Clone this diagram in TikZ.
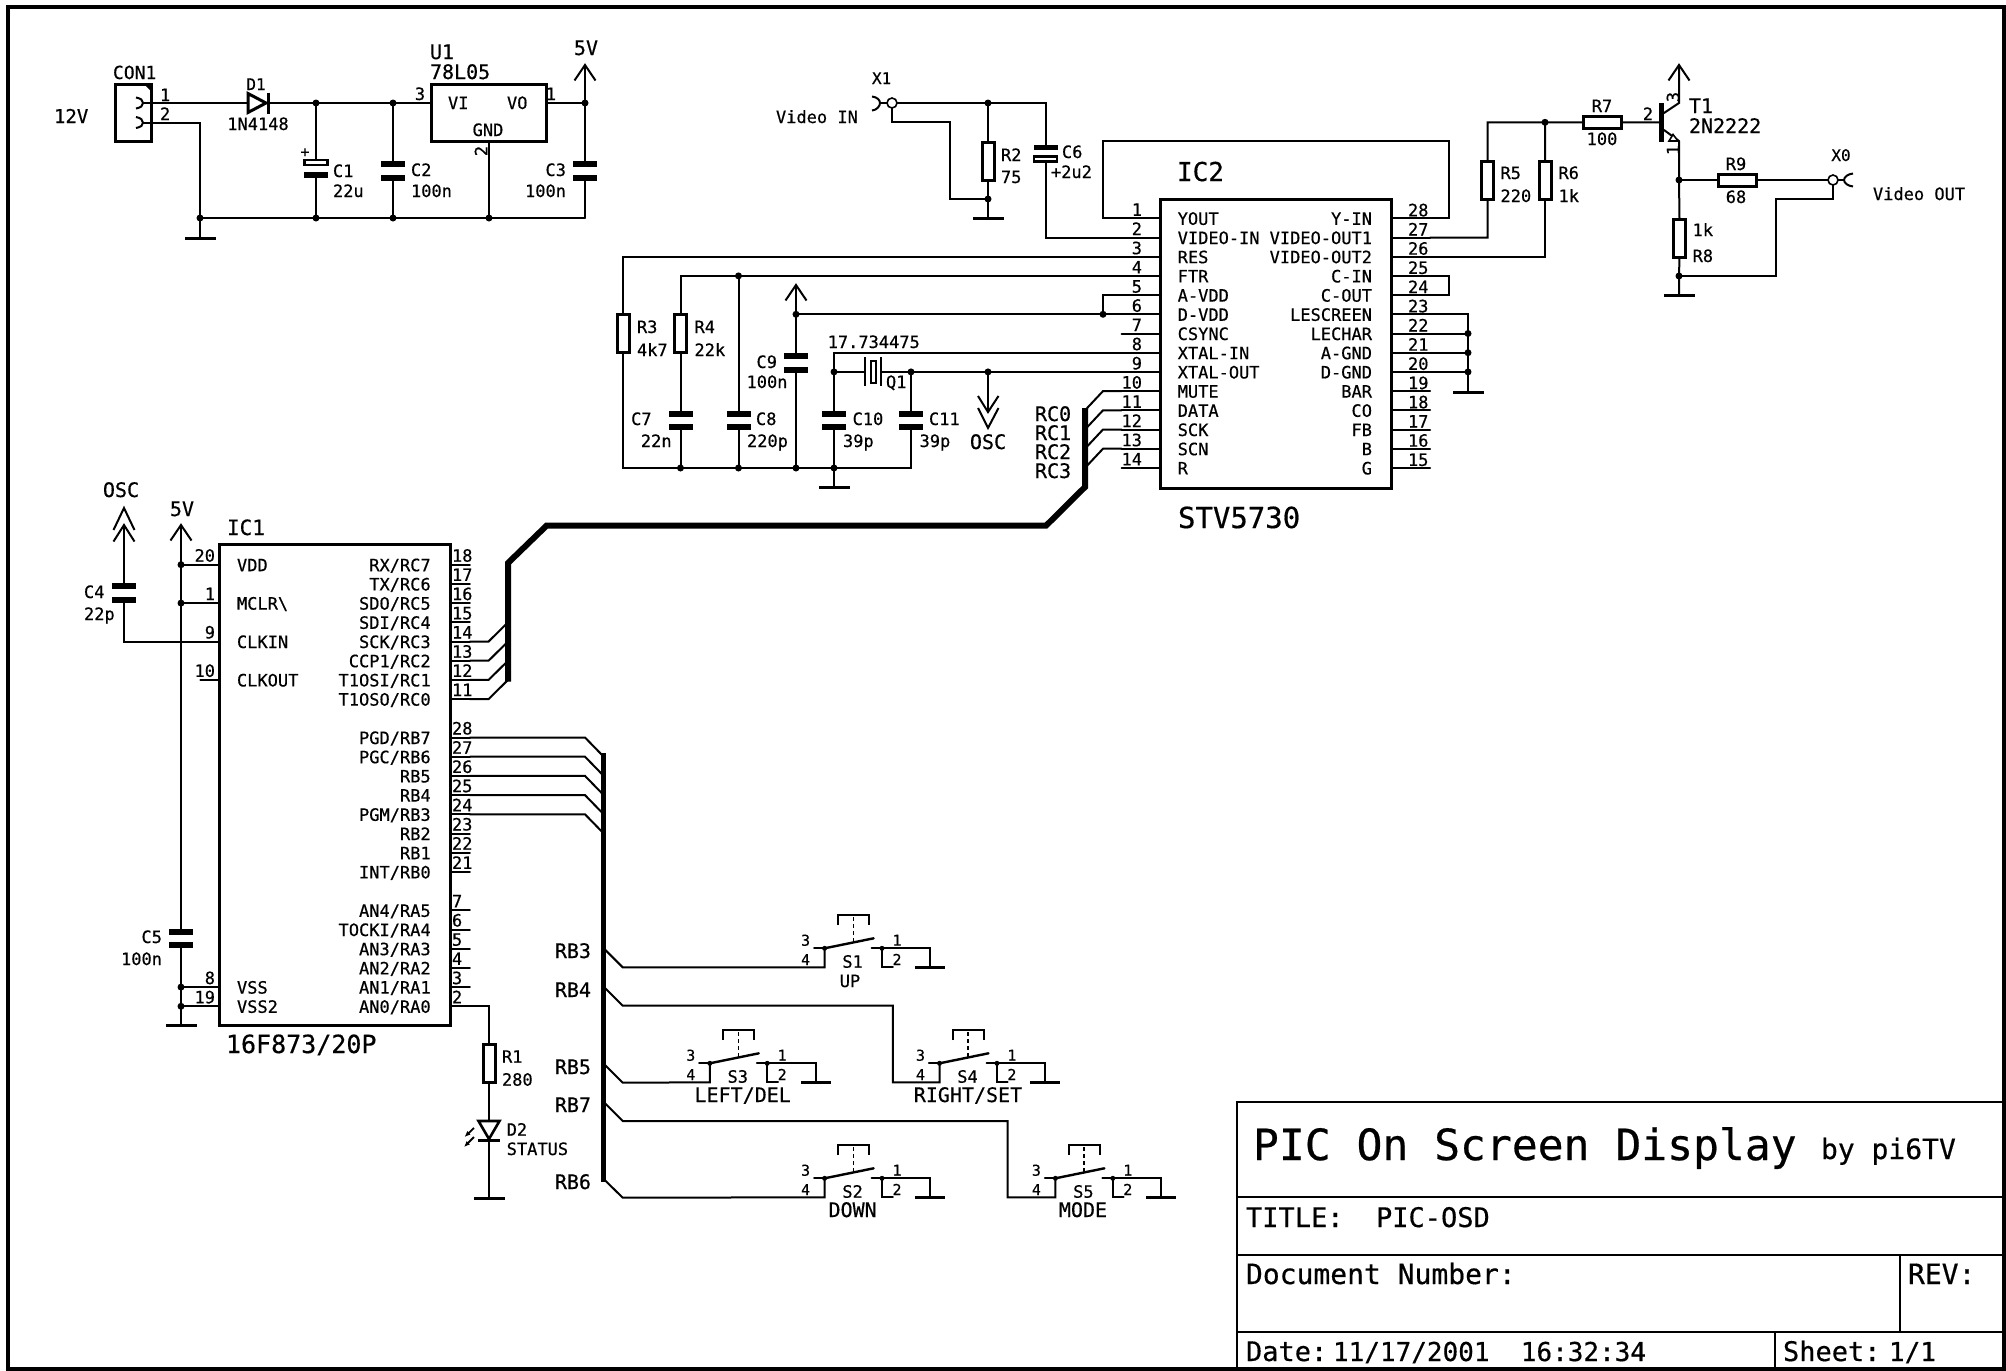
\documentclass[tikz,border=0pt]{standalone}
\usepackage{fontspec}
\usetikzlibrary{arrows.meta}
\setmainfont[FakeBold=0.5]{DejaVu Sans Mono}
\newcounter{tn}
\tikzset{
  wire/.style={line width=2pt,line cap=round,line join=miter},
  comp/.style={line width=3pt,line join=miter},
  busline/.style={line width=5.5pt,line join=miter,line cap=butt},
  jn/.style={circle,fill=black,inner sep=0pt,minimum size=7pt,outer sep=0pt},
  jns/.style={circle,fill=black,inner sep=0pt,minimum size=5pt,outer sep=0pt},
  rv/.style={draw,line width=3pt,fill=white,minimum width=12pt,minimum height=38pt,inner sep=0pt,outer sep=0pt},
  rh/.style={draw,line width=3pt,fill=white,minimum width=38pt,minimum height=12pt,inner sep=0pt,outer sep=0pt},
  plate/.style={fill=black,minimum width=24pt,minimum height=6pt,inner sep=0pt,outer sep=0pt},
  hplate/.style={draw,line width=2.2pt,fill=white,minimum width=23pt,minimum height=5pt,inner sep=0pt,outer sep=0pt},
  gbar/.style={fill=black,minimum width=31pt,minimum height=3pt,inner sep=0pt,outer sep=0pt},
  icbox/.style={draw,line width=3pt,inner sep=0pt,outer sep=0pt},
  lbl/.style={inner sep=0pt,outer sep=0pt},
  sheetline/.style={line width=2.6pt},
}
\newcommand\txt[4][17]{\stepcounter{tn}\node[lbl,anchor=#2,font=\fontsize{#1}{#1}\selectfont] (t\arabic{tn}) at (#3) {#4};}
\newcommand\rtxt[3][17]{\stepcounter{tn}\node[lbl,rotate=90,font=\fontsize{#1}{#1}\selectfont] (t\arabic{tn}) at (#2) {#3};}
\newcommand\junc[3]{\node[jn] (#1) at (#2,#3) {};}
\newcommand\gnd[3]{\node[gbar] (#1) at (#2,#3) {};}
\newcommand\capv[3]{\node[plate] (#1t) at (#2,#3-6.6) {};\node[plate] (#1b) at (#2,#3+6.6) {};}
\newcommand\supply[3]{\coordinate (#1) at (#2,#3);\draw[wire,line cap=butt] (#2-10.5,#3+15.5) -- (#1) -- (#2+10.5,#3+15.5);}
% IC1 pins
\newcommand\pinL[3]{\coordinate (IC1-#1) at (219.6,#3);\coordinate (IC1-#1e) at (200.4,#3);\draw[wire] (IC1-#1) -- (IC1-#1e);\txt{base east}{215,#3-3}{#1}\txt{base west}{237,#3+6.5}{#2}}
\newcommand\pinR[3]{\coordinate (IC1-#1) at (450.7,#3);\coordinate (IC1-#1e) at (469.8,#3);\draw[wire] (IC1-#1) -- (IC1-#1e);\txt{base west}{452,#3-3}{#1}\txt{base east}{430.7,#3+6.5}{#2}}
% IC2 pins
\newcommand\pinC[3]{\coordinate (IC2-#1) at (1161,#3);\coordinate (IC2-#1e) at (1121.6,#3);\draw[wire] (IC2-#1) -- (IC2-#1e);\txt{base east}{1142,#3-2.5}{#1}\txt{base west}{1177.7,#3+6.5}{#2}}
\newcommand\pinD[3]{\coordinate (IC2-#1) at (1391.5,#3);\coordinate (IC2-#1e) at (1430,#3);\draw[wire] (IC2-#1) -- (IC2-#1e);\txt{base west}{1408,#3-2}{#1}\txt{base east}{1372,#3+6.5}{#2}}
% push button
\newcommand\pushsw[4]{\begin{scope}[shift={(#2,#3)}]
  \coordinate (#1L) at (0,0);\coordinate (#1g) at (0,19);\coordinate (#1s) at (-10.6,0);
  \coordinate (#1m) at (49,-10);\coordinate (#1r) at (47,0);\coordinate (#1c) at (105.7,0);
  \coordinate (#1d) at (68.2,19);\coordinate (#1f) at (57.4,19);
  \coordinate (#1u) at (28.7,-6.6);\coordinate (#1v) at (28.7,-33.3);
  \node[jns] (#1a) at (0,0) {};\node[jns] (#1b) at (57.4,0) {};
  \node[gbar,minimum width=30pt] (#1G) at (105.7,19) {};
  \draw[wire] (#1s) -- (#1a.center) (#1r) -- (#1b.center) -- (#1c) -- (#1G.center);
  \draw[wire,line width=2.4pt] (#1a.center) -- (#1m);
  \draw[wire] (#1b.center) -- (#1f) -- (#1d);
  \draw[line width=1.6pt,dash pattern=on 4pt off 3pt] (#1u) -- (#1v);
  \draw[wire,line width=2.4pt,line cap=butt] (13.4,-23.3) -- (13.4,-33.3) -- (44.4,-33.3) -- (44.4,-23.3);
  \txt[15]{base}{-19,-2.6}{3}\txt[15]{base}{-19,16.7}{4}\txt[15]{base}{72.4,-2.6}{1}\txt[15]{base}{72.4,16.7}{2}
  \txt{base}{28,19.4}{#4}
\end{scope}}
\begin{document}
\begin{tikzpicture}[x=1pt,y=-1pt]
\useasboundingbox (0,0) rectangle (2006,1371);
% sheet frame
\node[draw,line width=4.5pt,minimum width=1996pt,minimum height=1362pt,inner sep=0pt,outer sep=0pt] (frame) at (1006,688) {};
% title block
\coordinate (tbA) at (1237,1102);\coordinate (tbB) at (2004,1102);
\coordinate (tbC) at (1237,1197);\coordinate (tbD) at (2004,1197);
\coordinate (tbE) at (1237,1255);\coordinate (tbF) at (2004,1255);
\coordinate (tbG) at (1237,1332);\coordinate (tbH) at (2004,1332);
\coordinate (tbI) at (1237,1369);\coordinate (tbJ) at (1900,1255);\coordinate (tbK) at (1900,1332);
\coordinate (tbL) at (1775,1332);\coordinate (tbM) at (1775,1369);
\draw[sheetline] (tbI) -- (tbA) -- (tbB) (tbC) -- (tbD) (tbE) -- (tbF) (tbG) -- (tbH) (tbJ) -- (tbK) (tbL) -- (tbM);
\txt[43]{base west}{1253,1160}{PIC On Screen Display}
\txt[28]{base west}{1821,1159}{by pi6TV}
\txt[27]{base west}{1246,1227}{TITLE:~~PIC-OSD}
\txt[28]{base west}{1246,1284}{Document Number:}
\txt[28]{base west}{1908,1284}{REV:}
\txt[27]{base west}{1246,1361}{Date:}
\txt[26]{base west}{1333,1361}{11/17/2001~~16:32:34}
\txt[27]{base west}{1783,1361}{Sheet:}
\txt[26]{base west}{1889,1361}{1/1}

% ---------- power supply ----------
\node[icbox,minimum width=36pt,minimum height=57pt] (CON1) at (133.5,113) {};
\fill (144,84) -- (152,84) -- (152,92) -- cycle;
\coordinate (CONa) at (143,103);\coordinate (CONb) at (143,122.7);
\draw[wire,line cap=butt] (136,97.5) .. controls (141,98.5) and (143,100) .. (CONa) .. controls (143,106) and (141,107.5) .. (136,108.5);
\draw[wire,line cap=butt] (136,117) .. controls (141,118) and (143,120) .. (CONb) .. controls (143,125.5) and (141,127) .. (136,128);
\txt[18]{base west}{113,79}{CON1}
\txt{base west}{160,101}{1}\txt{base west}{160,120}{2}
\txt[19]{base west}{54,123}{12V}
\coordinate (D1a) at (248,103);\coordinate (D1k) at (268,103);
\draw[comp] (248,93.5) -- (266,103) -- (248,112.5) -- cycle;
\draw[comp] (268,92.5) -- (268,113.5);
\txt[16]{base}{256,90}{D1}\txt{base}{258,130}{1N4148}
\junc{J1}{316}{103}\junc{J2}{393}{103}\junc{J3}{585}{103}
\junc{J4}{200}{218}\junc{J5}{316}{218}\junc{J6}{393}{218}\junc{J7a}{489}{218}
\gnd{G1}{200}{238}
\node[icbox,minimum width=115pt,minimum height=57pt] (U1) at (489,113) {};
\coordinate (U1in) at (430,103);\coordinate (U1out) at (548,103);\coordinate (CONc) at (200,122.7);\coordinate (GL) at (585,218);
\draw[wire] (CONa) -- (D1a) (D1k) -- (J1.center) -- (J2.center) -- (U1in) (U1out) -- (J3.center);
\draw[wire] (CONb) -- (CONc) -- (J4.center) -- (J5.center) -- (J6.center) -- (J7a.center) -- (GL);
\draw[wire] (J4.center) -- (G1.center) (U1.south) -- (J7a.center);
\node[hplate] (C1t) at (316,162.5) {};\node[plate] (C1b) at (316,174.5) {};
\capv{C2}{393}{171}\capv{C3}{585}{171}
\draw[wire] (J1.center) -- (C1t.north) (C1b.south) -- (J5.center);
\draw[wire] (J2.center) -- (C2t.north) (C2b.south) -- (J6.center);
\draw[wire] (J3.center) -- (C3t.north) (C3b.south) -- (GL);
\supply{V5a}{585}{65}
\draw[wire] (V5a) -- (J3.center);
\txt[20]{base}{586,55}{5V}
\txt{base west}{333,177}{C1}\txt{base west}{333,197}{22u}\txt[15]{base}{305,157}{+}
\txt{base west}{411,176}{C2}\txt{base west}{411,197}{100n}
\txt{base east}{566,176}{C3}\txt{base east}{566,197}{100n}
\txt[20]{base west}{430,59}{U1}\txt[20]{base west}{430,79}{78L05}
\txt{base west}{448,109}{VI}\txt{base west}{507,109}{VO}\txt{base}{488,136}{GND}
\txt{base}{420,100}{3}\txt{base}{551,100}{1}\rtxt{481,151}{2}

% ---------- video in ----------
\txt[16]{base west}{872,84}{X1}
\txt{base west}{776,123}{Video IN}
\node[draw,circle,line width=1.6pt,minimum size=10pt,inner sep=0pt,outer sep=0pt] (X1) at (892,103) {};
\coordinate (X1a) at (880,103);
\draw[wire,line cap=butt] (872,96.5) .. controls (877,97) and (880,100) .. (X1a) .. controls (880,106) and (877,110) .. (872,110.5);
\draw[wire] (X1a) -- (X1.west);
\junc{J10}{988}{103}\junc{J11}{988}{199}\gnd{G2}{988}{218}
\node[rv] (R2) at (988,161) {};
\node[plate,minimum height=5pt] (C6t) at (1045.5,147.5) {};\node[hplate] (C6b) at (1045.5,159) {};
\coordinate (X1t) at (1045.5,103);\coordinate (X1r) at (892,122);\coordinate (X1s) at (949.5,122);\coordinate (X1u) at (949.5,199);
\draw[wire] (X1.east) -- (J10.center) -- (X1t) -- (C6t.north);
\draw[wire] (J10.center) -- (R2.north) (R2.south) -- (J11.center) -- (G2.center);
\draw[wire] (X1.south) -- (X1r) -- (X1s) -- (X1u) -- (J11.center);
\txt{base west}{1001,161}{R2}\txt{base west}{1001,183}{75}
\txt{base west}{1062,158}{C6}\txt{base west}{1051,178}{+2u2}

% ---------- IC2 ----------
\node[icbox,minimum width=230.5pt,minimum height=289pt] (IC2) at (1276.2,343.5) {};
\txt[26]{base west}{1177,181}{IC2}
\txt[29]{base west}{1178,528}{STV5730}
\pinC{1}{YOUT}{218.3}\pinC{2}{VIDEO-IN}{237.5}\pinC{3}{RES}{256.7}\pinC{4}{FTR}{275.9}
\pinC{5}{A-VDD}{295.1}\pinC{6}{D-VDD}{314.3}\pinC{7}{CSYNC}{333.5}\pinC{8}{XTAL-IN}{352.7}
\pinC{9}{XTAL-OUT}{371.9}\pinC{10}{MUTE}{391.1}\pinC{11}{DATA}{410.3}\pinC{12}{SCK}{429.5}
\pinC{13}{SCN}{448.7}\pinC{14}{R}{467.9}
\pinD{28}{Y-IN}{218.3}\pinD{27}{VIDEO-OUT1}{237.5}\pinD{26}{VIDEO-OUT2}{256.7}\pinD{25}{C-IN}{275.9}
\pinD{24}{C-OUT}{295.1}\pinD{23}{LESCREEN}{314.3}\pinD{22}{LECHAR}{333.5}\pinD{21}{A-GND}{352.7}
\pinD{20}{D-GND}{371.9}\pinD{19}{BAR}{391.1}\pinD{18}{CO}{410.3}\pinD{17}{FB}{429.5}
\pinD{16}{B}{448.7}\pinD{15}{G}{467.9}
\coordinate (LpA) at (1102.7,141);\coordinate (LpB) at (1449,141);\coordinate (LpC) at (1449,275.9);
\draw[wire] (IC2-1e) -| (LpA) -- (LpB) |- (IC2-28e);
\draw[wire] (IC2-2e) -| (C6b.south);
\draw[wire] (IC2-25e) -- (LpC) |- (IC2-24e);
\junc{J12}{1468}{333.5}\junc{J13}{1468}{352.7}\junc{J14}{1468}{371.9}\gnd{G4}{1468}{392}
\coordinate (Gt) at (1468,314.3);
\draw[wire] (IC2-23e) -- (Gt) -- (J12.center) -- (J13.center) -- (J14.center) -- (G4.center);
\draw[wire] (IC2-22e) -- (J12.center) (IC2-21e) -- (J13.center) (IC2-20e) -- (J14.center);

% ---------- video out ----------
\junc{J15}{1545}{122.3}
\node[rv] (R5) at (1487.7,180) {};\node[rv] (R6) at (1545,180) {};
\node[rh] (R7) at (1602.8,122.5) {};
\coordinate (R5t) at (1487.7,122.3);\coordinate (T1b) at (1659,122.3);
\draw[wire] (IC2-27e) -| (R5.south) (R5.north) -- (R5t) -- (J15.center) -- (R7.west) (J15.center) -- (R6.north);
\draw[wire] (IC2-26e) -| (R6.south);
\draw[wire] (R7.east) -- (T1b);
\txt{base west}{1500.5,179}{R5}\txt{base west}{1500.5,202}{220}
\txt{base west}{1558.5,179}{R6}\txt{base west}{1558.5,202}{1k}
\txt{base}{1602,112}{R7}\txt{base}{1602,145}{100}
\node[fill=black,minimum width=5pt,minimum height=39pt,inner sep=0pt,outer sep=0pt] (T1) at (1661.5,122.5) {};
\coordinate (T1c) at (1679,103);\coordinate (T1e) at (1679,141);
\coordinate (T1ca) at (1664,113);\coordinate (T1ea) at (1664,130);
\supply{V5b}{1679}{65}
\draw[wire] (T1ca) -- (T1c) -- (V5b);
\draw[wire] (T1ea) -- (T1e);
\draw[line width=1.6pt,fill=white] (1678,141) -- (1673,134.5) -- (1669,141) -- cycle;
\txt{base}{1648,120}{2}\rtxt{1673,97}{3}\rtxt{1673,150}{1}
\txt[20]{base west}{1689,113}{T1}\txt[20]{base west}{1689,133}{2N2222}
\junc{J16}{1679}{180}\junc{J17}{1679}{276}\gnd{G5}{1679}{295}
\node[rv] (R8) at (1679.5,238) {};
\node[rh] (R9) at (1737,180) {};
\node[draw,circle,line width=1.6pt,minimum size=10pt,inner sep=0pt,outer sep=0pt] (X0) at (1833,180) {};
\coordinate (X0a) at (1844,180);\coordinate (X0d) at (1833,199);\coordinate (X0e) at (1775.7,199);\coordinate (X0f) at (1775.7,276);
\draw[wire] (T1e) -- (J16.center) -- (R8.north) (R8.south) -- (J17.center) -- (G5.center);
\draw[wire] (J16.center) -- (R9.west) (R9.east) -- (X0.west) (X0.east) -- (X0a);
\draw[wire,line cap=butt] (1853,173.5) .. controls (1848,174) and (1844,177) .. (X0a) .. controls (1844,183) and (1848,186) .. (1853,186.5);
\draw[wire] (X0.south) -- (X0d) -- (X0e) -- (X0f) -- (J17.center);
\txt{base}{1736,170}{R9}\txt{base}{1736,203}{68}
\txt[16]{base}{1841,161}{X0}\txt{base west}{1873,200}{Video OUT}
\txt{base west}{1692.6,236}{1k}\txt{base west}{1692.6,262}{R8}

% ---------- RC / oscillator network ----------
\node[rv] (R3) at (623,333.5) {};\node[rv] (R4) at (680.5,333.5) {};
\capv{C7}{680.5}{420.5}\capv{C8}{738.5}{420.5}\capv{C10}{834}{420.5}\capv{C11}{911}{420.5}\capv{C9}{796}{363}
\junc{J20}{738.5}{275.9}\junc{J21}{796}{314.3}\junc{J22}{1103}{314.3}
\junc{J23}{680.5}{468}\junc{J24}{738.5}{468}\junc{J25}{796}{468}\junc{J26}{834}{468}
\junc{J27}{834}{371.9}\junc{J28}{911}{371.9}\junc{J29}{988}{371.9}
\gnd{G3}{834}{487.5}
\coordinate (BotL) at (623,468);\coordinate (BotR) at (911,468);
\draw[wire] (IC2-3e) -| (R3.north) (R3.south) -- (BotL) -- (J23.center) -- (J24.center) -- (J25.center) -- (J26.center) -- (BotR) -- (C11b.south);
\draw[wire] (IC2-4e) -- (J20.center) -| (R4.north) (R4.south) -- (C7t.north) (C7b.south) -- (J23.center);
\draw[wire] (J20.center) -- (C8t.north) (C8b.south) -- (J24.center);
\supply{V5c}{796}{285}
\draw[wire] (V5c) -- (J21.center) -- (C9t.north) (C9b.south) -- (J25.center);
\draw[wire] (IC2-6e) -- (J22.center) -- (J21.center);
\draw[wire] (IC2-5e) -| (J22.center);
\draw[wire] (IC2-8e) -| (J27.center);
\draw[wire] (J27.center) -- (C10t.north) (C10b.south) -- (J26.center) -- (G3.center);
\coordinate (Q1a) at (865,371.9);\coordinate (Q1b) at (881,371.9);
\draw[wire] (J27.center) -- (Q1a) (Q1b) -- (J28.center) -- (J29.center) -- (IC2-9e);
\draw[wire] (J28.center) -- (C11t.north);
\draw[wire,line cap=butt] (865,357) -- (865,386) (881,357) -- (881,386);
\node[draw,line width=2pt,minimum width=5pt,minimum height=22pt,inner sep=0pt,outer sep=0pt] (Q1) at (873,371.9) {};
\coordinate (OSCa) at (988,412);\coordinate (OSCb) at (988,428);
\draw[wire] (J29.center) -- (OSCa);
\draw[wire,line cap=butt] (978,396) -- (OSCa) -- (998.5,396);
\draw[wire,line cap=butt] (978,408) -- (OSCb) -- (998.5,408);
\txt[20]{base}{988,449}{OSC}
\txt{base west}{637,333}{R3}\txt{base west}{637,356}{4k7}
\txt{base west}{694.5,333}{R4}\txt{base west}{694.5,356}{22k}
\txt{base east}{651.6,425}{C7}\txt{base east}{671.6,447}{22n}
\txt{base west}{756,425}{C8}\txt{base west}{747,447}{220p}
\txt{base east}{777,368}{C9}\txt{base east}{787.5,388}{100n}
\txt{base west}{852.6,425}{C10}\txt{base west}{843,447}{39p}
\txt{base west}{929,425}{C11}\txt{base west}{919.6,447}{39p}
\txt{base west}{886,388}{Q1}\txt[17]{base west}{827.7,348}{17.734475}
% RC bus
\coordinate (Ba) at (1085,408);\coordinate (Bb) at (1085,487);\coordinate (Bc) at (1046,525.7);
\coordinate (Bd) at (546.5,525.7);\coordinate (Be) at (508,563);\coordinate (Bf) at (508,681.7);
\draw[busline,line width=6pt] (Ba) -- (Bb) -- (Bc) -- (Bd) -- (Be) -- (Bf);
\coordinate (Ea) at (1103,391.1);\coordinate (Eb) at (1103,410.3);\coordinate (Ec) at (1103,429.5);\coordinate (Ed) at (1103,448.7);
\coordinate (Fa) at (1085,410.3);\coordinate (Fb) at (1085,429.5);\coordinate (Fc) at (1085,448.7);\coordinate (Fd) at (1085,467.9);
\draw[wire] (IC2-10e) -- (Ea) -- (Fa) (IC2-11e) -- (Eb) -- (Fb) (IC2-12e) -- (Ec) -- (Fc) (IC2-13e) -- (Ed) -- (Fd);
\txt[20]{base west}{1035,421}{RC0}\txt[20]{base west}{1035,440}{RC1}\txt[20]{base west}{1035,459}{RC2}\txt[20]{base west}{1035,478}{RC3}

% ---------- IC1 ----------
\node[icbox,minimum width=231pt,minimum height=480.5pt] (IC1) at (335.1,785.2) {};
\txt[21]{base west}{227,535}{IC1}\txt[25]{base west}{226,1053}{16F873/20P}
\pinL{20}{VDD}{564.7}\pinL{1}{MCLR\textbackslash}{603.1}\pinL{9}{CLKIN}{641.5}\pinL{10}{CLKOUT}{679.9}
\pinL{8}{VSS}{987.1}\pinL{19}{VSS2}{1006.3}
\pinR{18}{RX/RC7}{564.7}\pinR{17}{TX/RC6}{583.9}\pinR{16}{SDO/RC5}{603.1}\pinR{15}{SDI/RC4}{622.3}
\pinR{14}{SCK/RC3}{641.5}\pinR{13}{CCP1/RC2}{660.7}\pinR{12}{T1OSI/RC1}{679.9}\pinR{11}{T1OSO/RC0}{699.1}
\pinR{28}{PGD/RB7}{737.5}\pinR{27}{PGC/RB6}{756.7}\pinR{26}{RB5}{775.9}\pinR{25}{RB4}{795.1}
\pinR{24}{PGM/RB3}{814.3}\pinR{23}{RB2}{833.5}\pinR{22}{RB1}{852.7}\pinR{21}{INT/RB0}{871.9}
\pinR{7}{AN4/RA5}{910.3}\pinR{6}{TOCKI/RA4}{929.5}\pinR{5}{AN3/RA3}{948.7}\pinR{4}{AN2/RA2}{967.9}
\pinR{3}{AN1/RA1}{987.1}\pinR{2}{AN0/RA0}{1006.3}
% supply rail
\supply{V5d}{181}{525}
\txt[20]{base}{182,516}{5V}
\junc{J30}{181}{564.7}\junc{J31}{181}{603.1}\junc{J32}{181}{987.1}\junc{J33}{181}{1006.3}
\gnd{G6}{181}{1025.5}
\capv{C5}{181}{938.5}
\draw[wire] (V5d) -- (J30.center) -- (J31.center) -- (C5t.north) (C5b.south) -- (J32.center) -- (J33.center) -- (G6.center);
\draw[wire] (IC1-20e) -- (J30.center) (IC1-1e) -- (J31.center) (IC1-8e) -- (J32.center) (IC1-19e) -- (J33.center);
\txt{base east}{162,943}{C5}\txt{base east}{162,965}{100n}
% OSC / C4
\capv{C4}{124}{593}
\coordinate (OSa) at (124,508);\coordinate (OSb) at (124,525);\coordinate (OSc) at (124,641.5);
\draw[wire] (OSb) -- (C4t.north) (C4b.south) -- (OSc) -- (IC1-9e);
\draw[wire,line cap=butt] (113.5,530) -- (OSa) -- (134.5,530);
\draw[wire,line cap=butt] (113.5,541.5) -- (OSb) -- (134.5,541.5);
\txt[20]{base}{121,497}{OSC}
\txt{base west}{84,598}{C4}\txt{base west}{84,620}{22p}
% RC entries
\coordinate (Ha) at (488.6,641.5);\coordinate (Hb) at (488.6,660.7);\coordinate (Hc) at (488.6,679.9);\coordinate (Hd) at (488.6,699.1);
\coordinate (Ia) at (508,622.3);\coordinate (Ib) at (508,641.5);\coordinate (Ic) at (508,660.7);\coordinate (Id) at (508,679.9);
\draw[wire] (IC1-14e) -- (Ha) -- (Ia) (IC1-13e) -- (Hb) -- (Ib) (IC1-12e) -- (Hc) -- (Ic) (IC1-11e) -- (Hd) -- (Id);
% RB bus
\coordinate (RBa) at (603.7,753);\coordinate (RBb) at (603.7,1181.7);
\draw[busline,line width=5pt] (RBa) -- (RBb);
\coordinate (Ka) at (585,737.5);\coordinate (Kb) at (585,756.7);\coordinate (Kc) at (585,775.9);\coordinate (Kd) at (585,795.1);\coordinate (Ke) at (585,814.3);
\coordinate (La) at (603.7,756.7);\coordinate (Lb) at (603.7,775.9);\coordinate (Lc) at (603.7,795.1);\coordinate (Ld) at (603.7,814.3);\coordinate (Le) at (603.7,833.5);
\draw[wire] (IC1-28e) -- (Ka) -- (La) (IC1-27e) -- (Kb) -- (Lb) (IC1-26e) -- (Kc) -- (Lc) (IC1-25e) -- (Kd) -- (Ld) (IC1-24e) -- (Ke) -- (Le);
\txt[20]{base east}{591,958}{RB3}\txt[20]{base east}{591,997}{RB4}\txt[20]{base east}{591,1074}{RB5}\txt[20]{base east}{591,1112}{RB7}\txt[20]{base east}{591,1189}{RB6}
% R1 / D2
\node[rv] (R1) at (489,1063.5) {};
\coordinate (R1t) at (489,1006.3);\coordinate (D2a) at (489,1121);\coordinate (D2k) at (489,1140);
\gnd{G7}{489}{1198}
\draw[wire] (IC1-2e) -- (R1t) -- (R1.north) (R1.south) -- (D2a) (D2k) -- (G7.center);
\draw[comp,line width=2.6pt] (478.5,1121) -- (499.5,1121) -- (489,1139) -- cycle;
\draw[comp] (478,1140) -- (500,1140);
\draw[line width=1.8pt,-{Latex[length=6pt,width=5pt]}] (474,1128) -- (464.5,1137);
\draw[line width=1.8pt,-{Latex[length=6pt,width=5pt]}] (474,1137) -- (464,1147);
\txt{base west}{502,1062.7}{R1}\txt{base west}{502,1085.7}{280}
\txt{base west}{506.7,1135.7}{D2}\txt{base west}{506.7,1155}{STATUS}

% ---------- switches ----------
\pushsw{SwA}{824.6}{948.3}{S1}
\pushsw{SwC}{709.8}{1063.3}{S3}
\pushsw{SwD}{939.5}{1063.3}{S4}
\pushsw{SwB}{824.6}{1178.3}{S2}
\pushsw{SwE}{1055.4}{1178.3}{S5}
\txt{base}{850,987}{UP}
\txt[20]{base}{742.7,1102}{LEFT/DEL}
\txt[20]{base}{968,1102}{RIGHT/SET}
\txt[20]{base}{852.6,1217}{DOWN}
\txt[20]{base}{1083,1217}{MODE}
\coordinate (M1) at (603.7,948.3);\coordinate (N1) at (622.7,967.3);
\coordinate (M2) at (603.7,986.7);\coordinate (N2) at (622.7,1005.7);\coordinate (Q2) at (892.8,1005.7);
\coordinate (M3) at (603.7,1063.7);\coordinate (N3) at (622.7,1082.7);
\coordinate (M4) at (603.7,1102);\coordinate (N4) at (622.7,1121);\coordinate (Q4) at (1007.6,1121);
\coordinate (M5) at (603.7,1179);\coordinate (N5) at (622.7,1197.7);
\draw[wire] (M1) -- (N1) -- (SwAg) -- (SwAL);
\draw[wire] (M2) -- (N2) -- (Q2) |- (SwDg) -- (SwDL);
\draw[wire] (M3) -- (N3) -- (SwCg) -- (SwCL);
\draw[wire] (M4) -- (N4) -- (Q4) |- (SwEg) -- (SwEL);
\draw[wire] (M5) -- (N5) -- (SwBg) -- (SwBL);
\end{tikzpicture}
\end{document}
